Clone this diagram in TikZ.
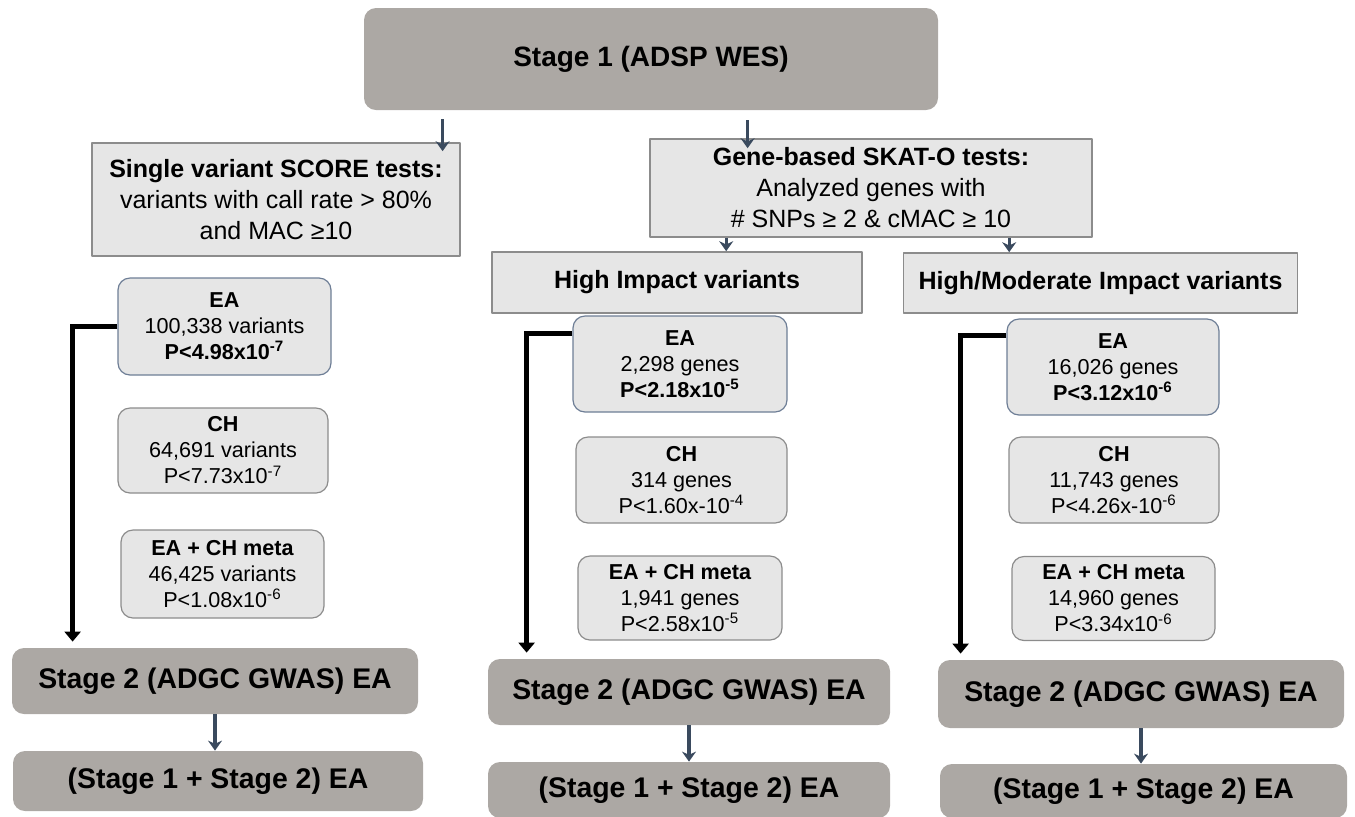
\documentclass[tikz,border=0pt]{standalone}
\usepackage{fontspec}
\setmainfont{Liberation Sans}
\usetikzlibrary{arrows.meta}
\definecolor{stagegray}{HTML}{ACA8A4}
\definecolor{boxgray}{HTML}{E6E6E6}
\definecolor{linegray}{HTML}{8C8C8C}
\definecolor{eablue}{HTML}{6E7E96}
\definecolor{arrblue}{HTML}{3A4A5E}
\begin{document}
\begin{tikzpicture}[x=0.5pt,y=-0.5pt,line join=round,>=Stealth]
\tikzset{stagebox/.style={fill=stagegray,rounded corners=6pt,align=center,font=\bfseries\fontsize{14.2}{17}\selectfont},
  testbox/.style={fill=boxgray,draw=linegray,line width=0.8pt,align=center,font=\fontsize{12.5}{15.5}\selectfont},
  resbox/.style={fill=boxgray,draw=linegray,line width=0.6pt,rounded corners=6pt,align=center,font=\fontsize{10.8}{13}\selectfont},
  eabox/.style={resbox,draw=eablue},
  smallarr/.style={arrblue,line width=1.6pt,-{Stealth[length=5pt,width=7pt]}},
  bigarr/.style={black,line width=2.5pt,line join=miter,-{Triangle[length=5pt,width=8pt]}}}
\useasboundingbox (0,0) rectangle (1355,816);
% stage 1 and the two kinds of tests
\node[stagebox,font=\bfseries\fontsize{14}{17}\selectfont,minimum width=287pt,minimum height=51pt] (stage1) at (651,59) {Stage 1 (ADSP WES)};
\node[testbox,minimum width=184pt,minimum height=56.5pt] (single) at (276,199.5)
  {\bfseries Single variant SCORE tests:\\variants with call rate > 80\%\\and MAC ≥10};
\node[testbox,minimum width=221pt,minimum height=49pt] (gene) at (871,188)
  {\bfseries Gene-based SKAT-O tests:\\Analyzed genes with\\\# SNPs ≥ 2 \& cMAC ≥ 10};
\node[testbox,font=\bfseries\fontsize{12.5}{15}\selectfont,minimum width=185pt,minimum height=30.5pt] (high) at (677,282.5) {High Impact variants};
\node[testbox,font=\bfseries\fontsize{12.5}{15}\selectfont,minimum width=197pt,minimum height=30pt] (highmod) at (1100.5,283) {High/Moderate Impact variants};
\draw[smallarr] ([shift={(79,9)}]stage1.south west) -- ([shift={(79,9)}]stage1.south west |- single.north);
\draw[smallarr] ([shift={(384,10)}]stage1.south west) -- ([shift={(384,10)}]stage1.south west |- gene.north);
\draw[smallarr] ([xshift=38.5pt]gene.south west) -- ([xshift=38.5pt]gene.south west |- high.north);
\draw[smallarr] ([xshift=180pt]gene.south west) -- ([xshift=180pt]gene.south west |- highmod.north);
% single variant results
\node[eabox,minimum width=106.5pt,minimum height=48.5pt] (eaA) at (224.5,326.5) {\textbf{EA}\\100,338 variants\\\textbf{P<4.98x10\textsuperscript{-7}}};
\node[resbox,minimum width=105pt,minimum height=42.5pt] (chA) at (223,450.5) {\textbf{CH}\\64,691 variants\\ P<7.73x10\textsuperscript{-7}};
\node[resbox,minimum width=101.5pt,minimum height=44pt] (metaA) at (222.5,574) {\textbf{EA + CH meta}\\46,425 variants\\ P<1.08x10\textsuperscript{-6}};
% high impact results
\node[eabox,minimum width=107pt,minimum height=48pt] (eaB) at (680,364) {\textbf{EA}\\2,298 genes\\\textbf{P<2.18x10\textsuperscript{-5}}};
\node[resbox,minimum width=105.5pt,minimum height=43pt] (chB) at (681.5,480) {\textbf{CH}\\314 genes\\ P<1.60x-10\textsuperscript{-4}};
\node[resbox,minimum width=102pt,minimum height=42pt] (metaB) at (680,598) {\textbf{EA + CH meta}\\1,941 genes\\ P<2.58x10\textsuperscript{-5}};
% high/moderate impact results
\node[eabox,minimum width=106pt,minimum height=48pt] (eaC) at (1113,367) {\textbf{EA}\\16,026 genes\\\textbf{P<3.12x10\textsuperscript{-6}}};
\node[resbox,minimum width=105pt,minimum height=43pt] (chC) at (1114,480) {\textbf{CH}\\11,743 genes\\ P<4.26x-10\textsuperscript{-6}};
\node[resbox,minimum width=101.5pt,minimum height=42pt] (metaC) at (1113.5,598.5) {\textbf{EA + CH meta}\\14,960 genes\\ P<3.34x10\textsuperscript{-6}};
% stage 2 and combined
\node[stagebox,minimum width=203pt,minimum height=33pt] (stage2A) at (215,681) {Stage 2 (ADGC GWAS) EA};
\node[stagebox,minimum width=205pt,minimum height=30pt] (combA) at (218,781) {(Stage 1 + Stage 2) EA};
\node[stagebox,minimum width=201pt,minimum height=33pt] (stage2B) at (689,692) {Stage 2 (ADGC GWAS) EA};
\node[stagebox,minimum width=201pt,minimum height=28pt] (combB) at (689,790) {(Stage 1 + Stage 2) EA};
\node[stagebox,minimum width=203pt,minimum height=34pt] (stage2C) at (1141,694) {Stage 2 (ADGC GWAS) EA};
\node[stagebox,minimum width=203.5pt,minimum height=27pt] (combC) at (1143.5,791) {(Stage 1 + Stage 2) EA};
\draw[smallarr] (stage2A.south) -- (combA.north -| stage2A.south);
\draw[smallarr] (stage2B.south) -- (combB.north);
\draw[smallarr] (stage2C.south) -- (combC.north -| stage2C.south);
% EA results go on to stage 2
\draw[bigarr] (eaA.west) -| ([shift={(61,-6)}]stage2A.north west);
\draw[bigarr] ([yshift=-9pt]eaB.north west) -| ([shift={(39,-6)}]stage2B.north west);
\draw[bigarr] ([yshift=-8.5pt]eaC.north west) -| ([shift={(23,-6)}]stage2C.north west);
\end{tikzpicture}
\end{document}
